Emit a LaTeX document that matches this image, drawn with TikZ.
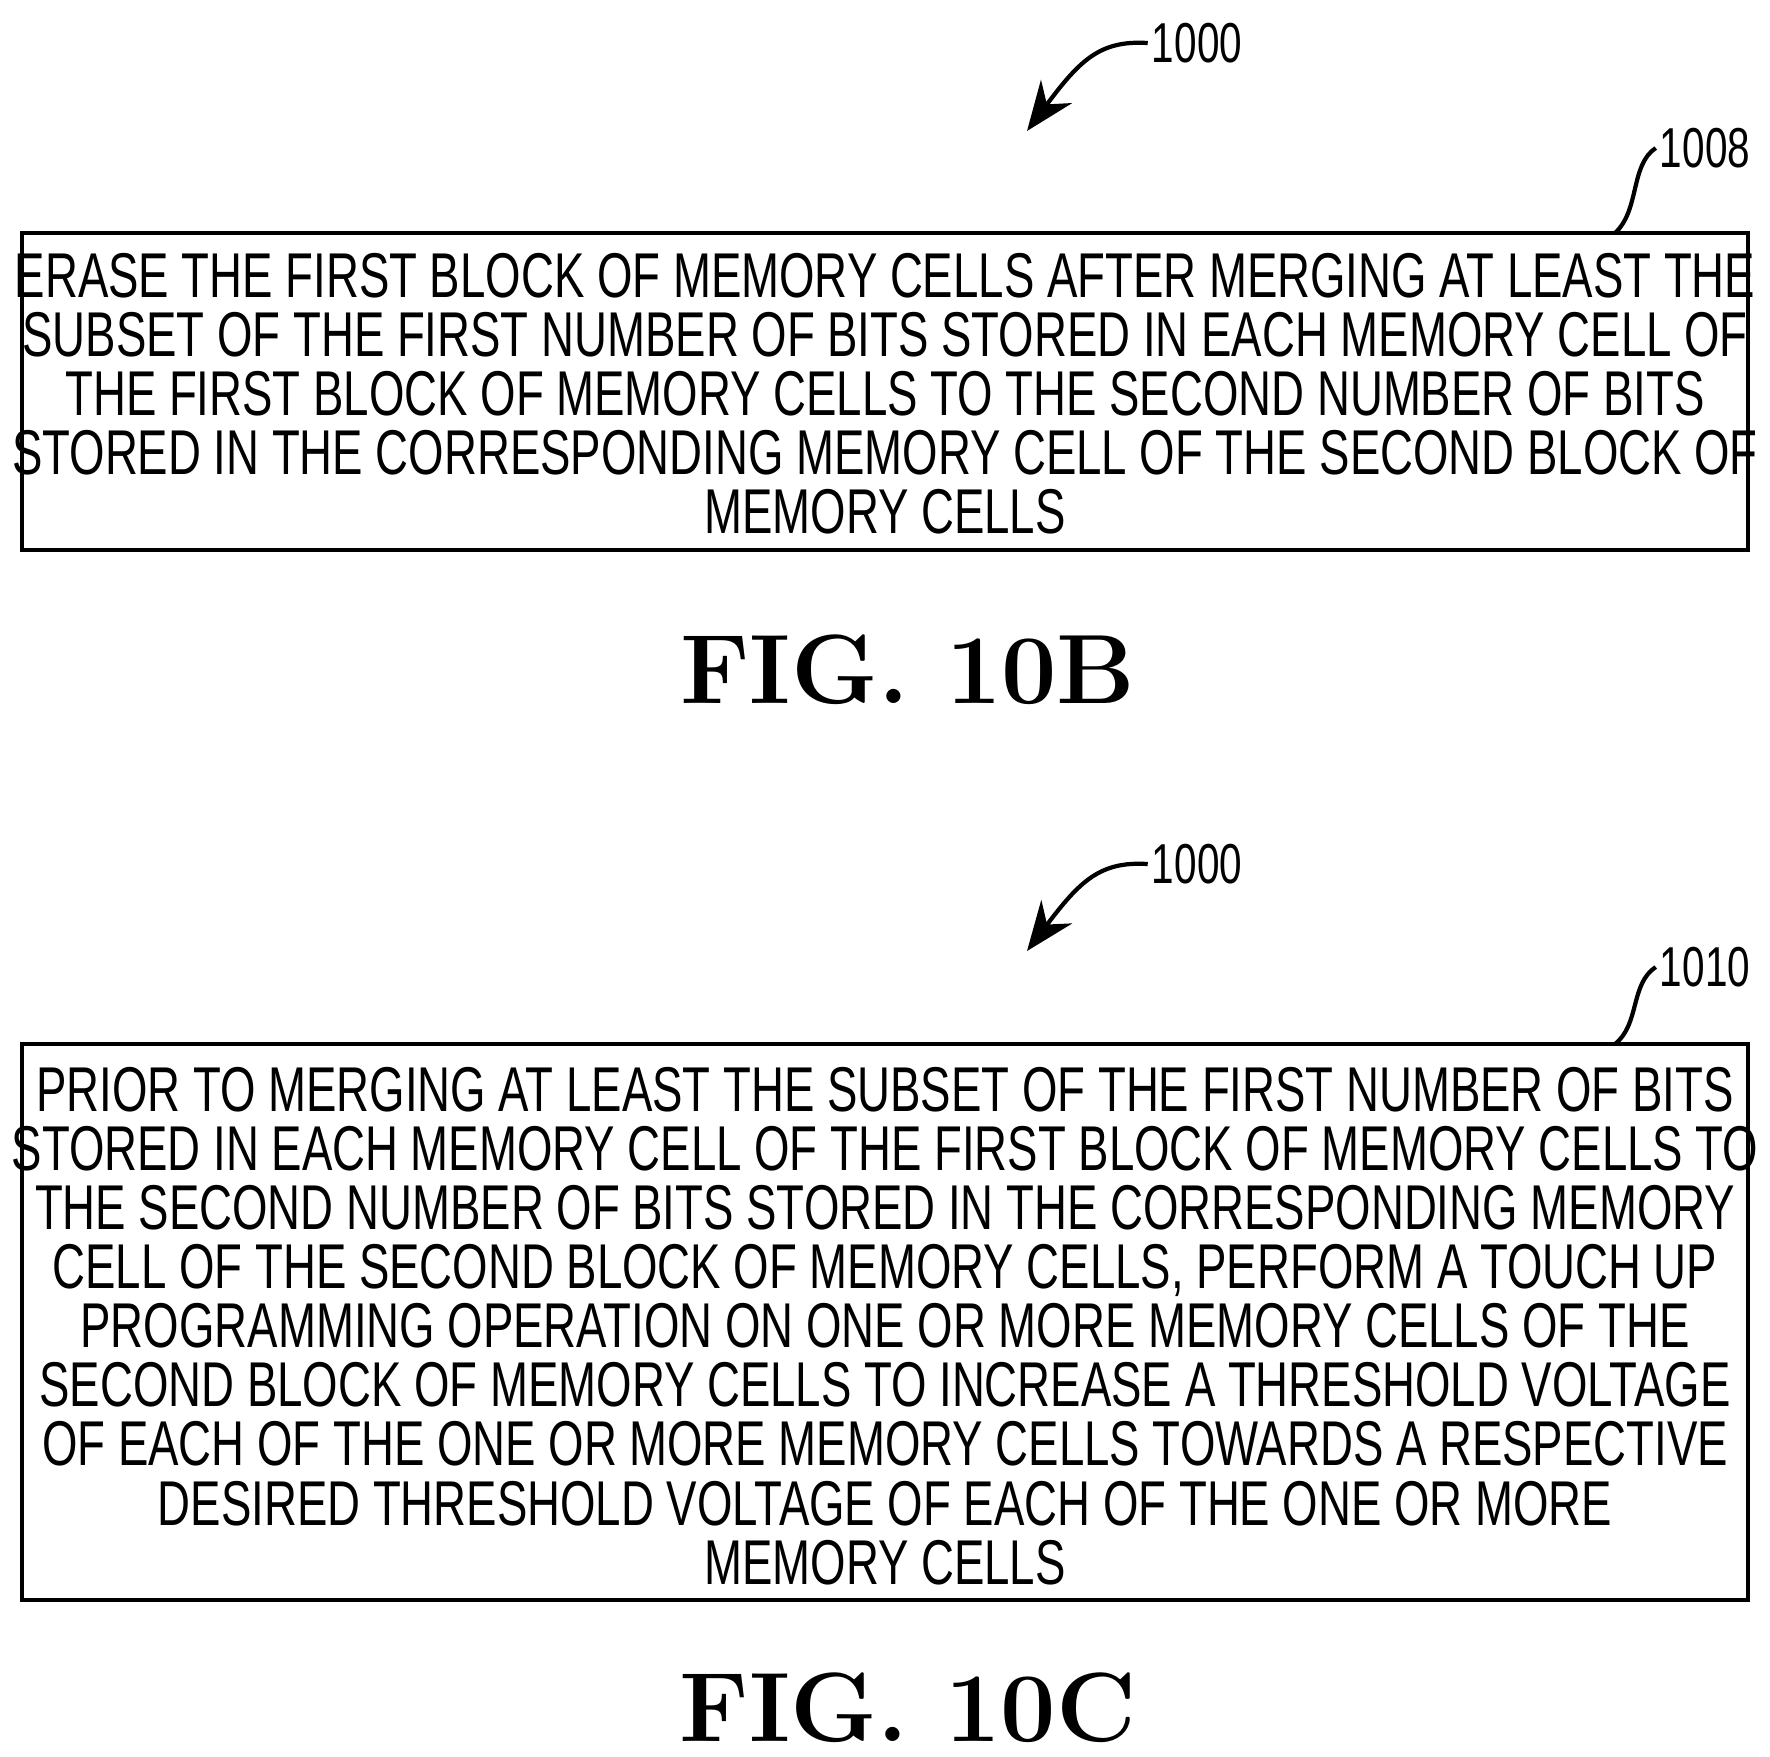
\documentclass[tikz,border=0pt]{standalone}
\usepackage{fontspec}
\newfontfamily\narrowsf[FakeStretch=0.72]{Liberation Sans}
\usetikzlibrary{arrows.meta,positioning}
\tikzset{
  stepbox/.style={draw, line width=1.2pt, inner sep=0pt},
  steptext/.style={align=center, font=\narrowsf\fontsize{18}{16.8}\selectfont},
  refnum/.style={font=\narrowsf\fontsize{16}{16}\selectfont, inner sep=1pt},
  figlabel/.style={font=\bfseries\fontsize{28}{28}\selectfont},
  leader/.style={line width=1.2pt}
}
\begin{document}
\begin{tikzpicture}[x=0.01cm, y=-0.01cm]
\useasboundingbox (0,0) rectangle (1770,1756);

% FIG. 10B
\node[refnum] (ref1000b) at (1197,43) {1000};
\coordinate (tip1000b) at (1027,131);
\draw[leader, -{Stealth[length=14pt,width=11pt]}] (ref1000b.west) .. controls (1100,40) and (1080,60) .. (tip1000b);
\draw[stepbox] (22,233) rectangle (1748,550);
\coordinate (hook1008) at (1615,233);
\node[steptext] (step1008) at (885,394) {ERASE THE FIRST BLOCK OF MEMORY CELLS AFTER MERGING AT LEAST THE\\
SUBSET OF THE FIRST NUMBER OF BITS STORED IN EACH MEMORY CELL OF\\
THE FIRST BLOCK OF MEMORY CELLS TO THE SECOND NUMBER OF BITS\\
STORED IN THE CORRESPONDING MEMORY CELL OF THE SECOND BLOCK OF\\
MEMORY CELLS};
\node[refnum] (ref1008) at (1705,148) {1008};
\draw[leader] (ref1008.west) .. controls (1630,165) and (1640,210) .. (hook1008);
\node[figlabel] (fig10b) at (908,670) {FIG. 10B};

% FIG. 10C
\node[refnum] (ref1000c) at (1197,864) {1000};
\coordinate (tip1000c) at (1027,951);
\draw[leader, -{Stealth[length=14pt,width=11pt]}] (ref1000c.west) .. controls (1100,861) and (1080,881) .. (tip1000c);
\draw[stepbox] (22,1044) rectangle (1748,1600);
\coordinate (hook1010) at (1615,1044);
\node[steptext] (step1010) at (885,1326) {PRIOR TO MERGING AT LEAST THE SUBSET OF THE FIRST NUMBER OF BITS\\
STORED IN EACH MEMORY CELL OF THE FIRST BLOCK OF MEMORY CELLS TO\\
THE SECOND NUMBER OF BITS STORED IN THE CORRESPONDING MEMORY\\
CELL OF THE SECOND BLOCK OF MEMORY CELLS, PERFORM A TOUCH UP\\
PROGRAMMING OPERATION ON ONE OR MORE MEMORY CELLS OF THE\\
SECOND BLOCK OF MEMORY CELLS TO INCREASE A THRESHOLD VOLTAGE\\
OF EACH OF THE ONE OR MORE MEMORY CELLS TOWARDS A RESPECTIVE\\
DESIRED THRESHOLD VOLTAGE OF EACH OF THE ONE OR MORE\\
MEMORY CELLS};
\node[refnum] (ref1010) at (1705,967) {1010};
\draw[leader] (ref1010.west) .. controls (1630,984) and (1640,1024) .. (hook1010);
\node[figlabel] (fig10c) at (908,1708) {FIG. 10C};
\end{tikzpicture}
\end{document}
